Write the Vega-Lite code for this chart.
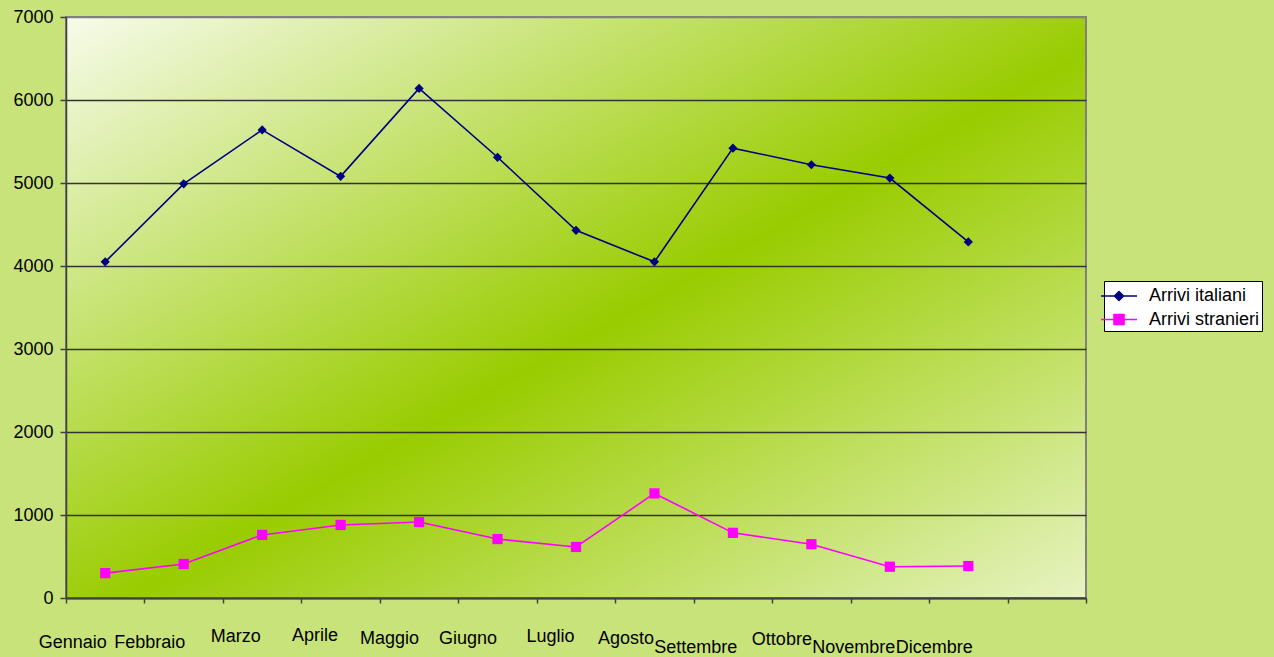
{
  "$schema": "https://vega.github.io/schema/vega-lite/v6.json",
  "width": 1020,
  "height": 581,
  "autosize": "none",
  "padding": {"left": 66, "top": 17, "right": 188, "bottom": 59},
  "background": "#c8e37a",
  "config": {"font": "Liberation Sans"},
  "view": {
    "stroke": "#808080",
    "strokeWidth": 2,
    "fill": {
      "gradient": "linear",
      "x1": 0, "y1": 0, "x2": 1, "y2": 1,
      "stops": [
        {"offset": 0, "color": "#f7fbeb"},
        {"offset": 0.53, "color": "#99cc00"},
        {"offset": 1, "color": "#e7f3c2"}
      ]
    }
  },
  "data": {
    "values": [
      {"mese": "Gennaio", "serie": "Arrivi italiani", "valore": 4050},
      {"mese": "Febbraio", "serie": "Arrivi italiani", "valore": 4990},
      {"mese": "Marzo", "serie": "Arrivi italiani", "valore": 5640},
      {"mese": "Aprile", "serie": "Arrivi italiani", "valore": 5080},
      {"mese": "Maggio", "serie": "Arrivi italiani", "valore": 6140},
      {"mese": "Giugno", "serie": "Arrivi italiani", "valore": 5310},
      {"mese": "Luglio", "serie": "Arrivi italiani", "valore": 4430},
      {"mese": "Agosto", "serie": "Arrivi italiani", "valore": 4050},
      {"mese": "Settembre", "serie": "Arrivi italiani", "valore": 5420},
      {"mese": "Ottobre", "serie": "Arrivi italiani", "valore": 5220},
      {"mese": "Novembre", "serie": "Arrivi italiani", "valore": 5060},
      {"mese": "Dicembre", "serie": "Arrivi italiani", "valore": 4290},
      {"mese": "Gennaio", "serie": "Arrivi stranieri", "valore": 300},
      {"mese": "Febbraio", "serie": "Arrivi stranieri", "valore": 410},
      {"mese": "Marzo", "serie": "Arrivi stranieri", "valore": 760},
      {"mese": "Aprile", "serie": "Arrivi stranieri", "valore": 880},
      {"mese": "Maggio", "serie": "Arrivi stranieri", "valore": 915},
      {"mese": "Giugno", "serie": "Arrivi stranieri", "valore": 710},
      {"mese": "Luglio", "serie": "Arrivi stranieri", "valore": 615},
      {"mese": "Agosto", "serie": "Arrivi stranieri", "valore": 1260},
      {"mese": "Settembre", "serie": "Arrivi stranieri", "valore": 785},
      {"mese": "Ottobre", "serie": "Arrivi stranieri", "valore": 648},
      {"mese": "Novembre", "serie": "Arrivi stranieri", "valore": 377},
      {"mese": "Dicembre", "serie": "Arrivi stranieri", "valore": 385}
    ]
  },
  "encoding": {
    "x": {
      "field": "mese",
      "type": "nominal",
      "bandPosition": 0.5,
      "title": null,
      "scale": {
        "type": "band",
        "domain": ["Gennaio", "Febbraio", "Marzo", "Aprile", "Maggio", "Giugno", "Luglio", "Agosto", "Settembre", "Ottobre", "Novembre", "Dicembre", " "],
        "paddingInner": 0,
        "paddingOuter": 0
      },
      "axis": {
        "tickBand": "extent",
        "labelAngle": 0,
        "labelOverlap": false,
        "labelFont": "Liberation Sans",
        "labelFontSize": 18,
        "labelColor": "#000000",
        "labelBaseline": "alphabetic",
        "labelAlign": "center",
        "labelPadding": {"expr": "40 + [4,4,-2,-3,0,0,-2,0,9,1,9,9,0][indexof(['Gennaio','Febbraio','Marzo','Aprile','Maggio','Giugno','Luglio','Agosto','Settembre','Ottobre','Novembre','Dicembre',' '], datum.value)]"},
        "labelOffset": {"expr": "[-33,-34.5,-27,-26,-30,-30,-26,-29,-37.7,-30,-36.5,-34.5,0][indexof(['Gennaio','Febbraio','Marzo','Aprile','Maggio','Giugno','Luglio','Agosto','Settembre','Ottobre','Novembre','Dicembre',' '], datum.value)]"},
        "tickSize": 5,
        "tickWidth": 1.5,
        "tickColor": "#404040",
        "domainColor": "#404040",
        "domainWidth": 2,
        "grid": false
      }
    },
    "y": {
      "field": "valore",
      "type": "quantitative",
      "title": null,
      "scale": {"domain": [0, 7000], "nice": false, "zero": true},
      "axis": {
        "values": [0, 1000, 2000, 3000, 4000, 5000, 6000, 7000],
        "grid": true,
        "gridColor": {"condition": {"test": "datum.value === 7000", "value": "#808080"}, "value": "#333333"},
        "gridWidth": 1.3,
        "tickSize": 6,
        "tickWidth": 1.5,
        "tickColor": "#404040",
        "domainColor": "#404040",
        "domainWidth": 1.5,
        "labelFont": "Liberation Sans",
        "labelFontSize": 18,
        "labelColor": "#000000",
        "labelPadding": 7,
        "format": "d"
      }
    },
    "color": {
      "field": "serie",
      "type": "nominal",
      "scale": {"domain": ["Arrivi italiani", "Arrivi stranieri"], "range": ["#000080", "#ff00ff"]},
      "legend": {
        "orient": "none",
        "legendX": 1038,
        "legendY": 264,
        "title": null,
        "labelFont": "Liberation Sans",
        "labelFontSize": 18,
        "labelColor": "#000000",
        "labelBaseline": "middle",
        "fillColor": "#ffffff",
        "strokeColor": "#000000",
        "padding": 2,
        "symbolSize": 576,
        "labelOffset": 17,
        "rowPadding": 1.5,
        "symbolStrokeWidth": 1.5,
        "encode": {
          "symbols": {
            "update": {
              "shape": {"signal": "datum.value === 'Arrivi italiani' ? 'M-1.5,0H1.5M0,-0.375L0.375,0L0,0.375L-0.375,0Z' : 'M-1.5,0H1.5M-0.42,-0.42H0.42V0.42H-0.42Z'"},
              "size": {"value": 576},
              "fill": {"signal": "scale('color', datum.value)"},
              "stroke": {"signal": "scale('color', datum.value)"},
              "strokeWidth": {"value": 1.5},
              "opacity": {"value": 1}
            }
          }
        }
      }
    }
  },
  "layer": [
    {
      "mark": {"type": "line", "strokeWidth": 1.6}
    },
    {
      "transform": [{"filter": "datum.serie === 'Arrivi italiani'"}],
      "mark": {"type": "point", "filled": true, "opacity": 1, "strokeWidth": 0, "shape": "diamond", "size": 85}
    },
    {
      "transform": [{"filter": "datum.serie === 'Arrivi stranieri'"}],
      "mark": {"type": "point", "filled": true, "opacity": 1, "strokeWidth": 0, "shape": "square", "size": 105}
    }
  ]
}
